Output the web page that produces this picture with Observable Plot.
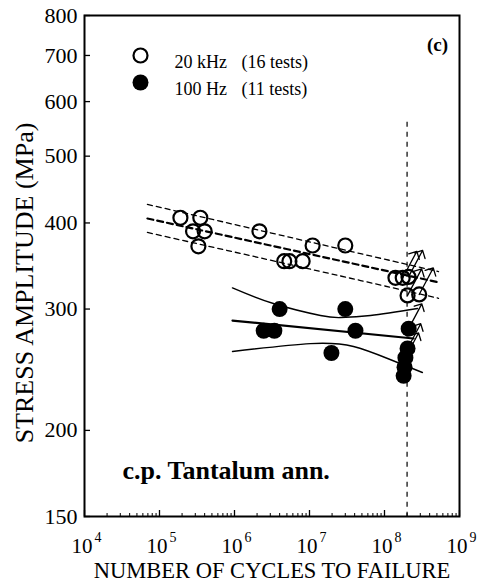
<!DOCTYPE html>
<html><head><meta charset="utf-8">
<script src="https://cdn.jsdelivr.net/npm/d3@7"></script>
<script src="https://cdn.jsdelivr.net/npm/@observablehq/plot@0.6"></script>
<style>body{margin:0;background:#fff}</style>
</head><body><div id="chart"></div>
<script>
// ---- data ----
const kHzCycles = [1.9e5,3.5e5,2.8e5,4.0e5,3.3e5,2.15e6,4.6e6,5.4e6,8.1e6,1.1e7,3.0e7,1.4e8,1.75e8,2.09e8,2.03e8,2.9e8];
const kHzStress = [407,407,389,389,370,389,352,352,352,371,371,333,333,334,314,315];
const kHzRunout = [0,0,0,0,0,0,0,0,0,0,0,0,1,1,1,1];

const hzCycles = [2.45e6,3.4e6,4.0e6,1.96e7,3.0e7,4.1e7,2.1e8,2.03e8,1.9e8,1.85e8,1.8e8];
const hzStress = [279,279,300,259,300,279,281,263,255,247,240];
const hzRunout = [0,0,0,0,0,0,1,1,1,0,0];

const kHzFitN = [6.9e4,5.25e8];
const kHzFitS = [406,328];
const kHzUpN = [6.9e4,4.8e7,5.25e8];
const kHzUpS = [425.6,361,340];
const kHzLoN = [6.9e4,4.8e7,5.25e8];
const kHzLoS = [387.5,330,311];

const hzFitN = [9.4e5,2.44e8];
const hzFitS = [288.7,271.9];
const hzUpN = [9.4e5,3.3e6,1.4e7,2.6e7,6.5e7,2.76e8];
const hzUpS = [322,305.6,293.6,291.6,293.6,300.5];
const hzLoN = [9.4e5,1.03e7,3.86e7,1.1e8,3.2e8];
const hzLoS = [260.3,267.3,264.7,254.3,242.7];

const runoutLimit = [2e8];
const runoutTop = 560;

const xDomain = [1e4,1e9];
const yDomain = [150,800];
const xTickExp = [4,5,6,7,8,9];
const yTickVals = [150,200,300,400,500,600,700,800];

const legendLabels = ["20 kHz","100 Hz"];
const legendCounts = ["(16 tests)","(11 tests)"];
const panelLabel = "(c)";
const materialLabel = "c.p. Tantalum ann.";
const xTitle = "NUMBER OF CYCLES TO FAILURE";
const yTitle = "STRESS AMPLITUDE (MPa)";

// ---- build ----
const zip = (N,S) => N.map((n,i)=>({n, s:S[i]}));
const kHz = kHzCycles.map((n,i)=>({n, s:kHzStress[i], r:kHzRunout[i]}));
const hz = hzCycles.map((n,i)=>({n, s:hzStress[i], r:hzRunout[i]}));
const xMajor = xTickExp.map(e=>Math.pow(10,e));
const xMinor = [];
for (const e of xTickExp.slice(0,-1)) for (let m=2;m<=9;m++) xMinor.push(m*Math.pow(10,e));

const W=477,H=585,mL=84,mR=18,mT=15,mB=69;
const pW=W-mL-mR, pH=H-mT-mB;
const serif = "'Liberation Serif','Times New Roman',serif";

const chart = Plot.plot({
  width: W, height: H,
  marginLeft: mL, marginRight: mR, marginTop: mT, marginBottom: mB,
  style: {fontFamily: serif, background: "#fff", color: "#000"},
  x: {type: "log", domain: xDomain, axis: null},
  y: {type: "log", domain: yDomain},
  marks: [
    Plot.axisY({ticks: yTickVals, tickSize: 0, tickPadding: 7, fontSize: 22, label: null, tickFormat: d => String(d), fontFamily: serif}),
    Plot.ruleY(yTickVals, {y: d=>d, insetRight: pW-6, stroke: "#000", strokeWidth: 1.3}),
    Plot.ruleX(xMajor, {x: d=>d, insetTop: pH-6, stroke: "#000", strokeWidth: 1.3}),
    Plot.ruleX(xMinor, {x: d=>d, insetTop: pH-3, stroke: "#000", strokeWidth: 1}),
    Plot.ruleX(runoutLimit, {x: d=>d, y1: runoutTop, y2: yDomain[0], stroke: "#000", strokeWidth: 1.2, strokeDasharray: "5,5"}),
    // 20 kHz fit (dashed)
    Plot.line(zip(kHzUpN,kHzUpS), {x:"n", y:"s", curve:"natural", stroke:"#000", strokeWidth:1.3, strokeDasharray:"5,4"}),
    Plot.line(zip(kHzLoN,kHzLoS), {x:"n", y:"s", curve:"natural", stroke:"#000", strokeWidth:1.3, strokeDasharray:"5,4"}),
    Plot.line(zip(kHzFitN,kHzFitS), {x:"n", y:"s", stroke:"#000", strokeWidth:2.2, strokeDasharray:"6,4"}),
    // 100 Hz fit (solid)
    Plot.line(zip(hzUpN,hzUpS), {x:"n", y:"s", curve:"natural", stroke:"#000", strokeWidth:1.4}),
    Plot.line(zip(hzLoN,hzLoS), {x:"n", y:"s", curve:"natural", stroke:"#000", strokeWidth:1.4}),
    Plot.line(zip(hzFitN,hzFitS), {x:"n", y:"s", stroke:"#000", strokeWidth:2.2}),
    // run-out arrows
    Plot.vector(kHz.filter(d=>d.r), {x:"n", y:"s", anchor:"start", rotate:28, length:30, shape:"arrow", stroke:"#000", strokeWidth:1.3}),
    Plot.vector(hz.filter(d=>d.r), {x:"n", y:"s", anchor:"start", rotate:28, length:28, shape:"arrow", stroke:"#000", strokeWidth:1.3}),
    // points
    Plot.dot(kHz, {x:"n", y:"s", r:7, fill:"none", stroke:"#000", strokeWidth:2.2}),
    Plot.dot(hz, {x:"n", y:"s", r:8, fill:"#000", stroke:"none"}),
    Plot.frame({stroke:"#000", strokeWidth:2}),
    // x tick labels
    Plot.text(xMajor, {x:d=>d, text:()=> "10", frameAnchor:"bottom", dy:36, dx:8, textAnchor:"end", fontSize:21, fontFamily: serif}),
    Plot.text(xMajor, {x:d=>d, text:(d,i)=> String(xTickExp[i]), frameAnchor:"bottom", dy:25, dx:10, textAnchor:"start", fontSize:14, fontFamily: serif}),
    // titles
    Plot.text([xTitle], {text:d=>d, frameAnchor:"bottom", dy:61, textAnchor:"middle", fontSize:22.5, fontFamily: serif}),
    Plot.text([yTitle], {text:d=>d, frameAnchor:"left", rotate:-90, dx:-60, dy:17, textAnchor:"middle", fontSize:26, fontFamily: serif}),
    // legend
    Plot.dot([0], {frameAnchor:"top-left", dx:56, dy:40, r:7, fill:"none", stroke:"#000", strokeWidth:2.2}),
    Plot.dot([0], {frameAnchor:"top-left", dx:56, dy:67, r:8, fill:"#000"}),
    Plot.text([legendLabels[0]], {text:d=>d, frameAnchor:"top-left", dx:90, dy:40, textAnchor:"start", fontSize:18, fontFamily: serif}),
    Plot.text([legendLabels[1]], {text:d=>d, frameAnchor:"top-left", dx:90, dy:67, textAnchor:"start", fontSize:18, fontFamily: serif}),
    Plot.text([legendCounts[0]], {text:d=>d, frameAnchor:"top-left", dx:157, dy:40, textAnchor:"start", fontSize:18, fontFamily: serif}),
    Plot.text([legendCounts[1]], {text:d=>d, frameAnchor:"top-left", dx:157, dy:67, textAnchor:"start", fontSize:18, fontFamily: serif}),
    Plot.text([panelLabel], {text:d=>d, frameAnchor:"top-right", dx:-22, dy:22, textAnchor:"middle", fontSize:19, fontWeight:"bold", fontFamily: serif}),
    Plot.text([materialLabel], {text:d=>d, frameAnchor:"bottom-left", dx:38, dy:-38, textAnchor:"start", fontSize:26, fontWeight:"bold", fontFamily: serif})
  ]
});
document.getElementById("chart").appendChild(chart);
</script>
</body></html>
